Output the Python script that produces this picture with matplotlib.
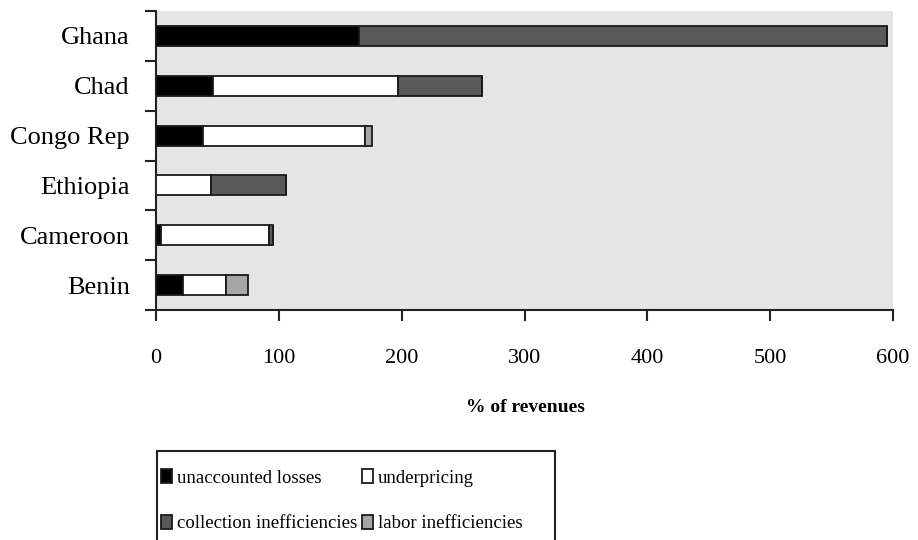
import numpy as np
import matplotlib
matplotlib.use("Agg")
import matplotlib.pyplot as plt
from matplotlib.patches import Rectangle

plt.rcParams['font.family'] = ['Liberation Serif', 'DejaVu Serif']

# data, top to bottom as drawn
countries = ["Ghana", "Chad", "Congo Rep", "Ethiopia", "Cameroon", "Benin"]
unaccounted = [165, 46, 38, 0, 4, 22]
underpricing = [0, 151, 132, 45, 88, 35]
collection = [430, 68, 0, 61, 3, 0]
labor = [0, 0, 6, 0, 0, 18]

series = [
    ("unaccounted losses", unaccounted, "#000000"),
    ("underpricing", underpricing, "#ffffff"),
    ("collection inefficiencies", collection, "#595959"),
    ("labor inefficiencies", labor, "#a6a6a6"),
]

W, H = 918, 540
fig = plt.figure(figsize=(W / 100, H / 100), dpi=100)
ax = fig.add_axes([156 / W, 1 - 310 / H, (893 - 156) / W, (310 - 11) / H])
ax.set_facecolor("#e5e5e5")

y = np.arange(len(countries))[::-1]
left = np.zeros(len(countries))
bars = []
for name, vals, col in series:
    vals = np.array(vals, dtype=float)
    b = ax.barh(y, vals, left=left, height=0.4, color=col, edgecolor="#1a1a1a",
                linewidth=1.3, label=name, zorder=3)
    bars.append(b)
    left += vals

ax.set_xlim(0, 598)
ax.set_ylim(-0.5, len(countries) - 0.5)
ax.set_xticks(np.arange(0, 700, 100))
ax.set_xticklabels([str(v) for v in range(0, 700, 100)])

# ticks at category boundaries, labels at centres
ax.set_yticks(np.arange(-0.5, len(countries), 1.0))
ax.set_yticklabels([])
ax.set_yticks(y, minor=True)
ax.set_yticklabels(countries, minor=True)
ax.tick_params(axis="y", which="minor", length=0, pad=19, labelsize=19)
ax.tick_params(axis="y", which="major", length=8, width=1.5, direction="out", color="#222222")
ax.tick_params(axis="x", length=8, width=1.5, direction="out", pad=20, labelsize=16, color="#222222")

for s in ["top", "right"]:
    ax.spines[s].set_visible(False)
for s in ["left", "bottom"]:
    ax.spines[s].set_linewidth(1.5)
    ax.spines[s].set_color("#222222")

fig.text(525 / W, 1 - 408 / H, "% of revenues", ha="center", va="center",
         fontsize=14, fontweight="bold")

# legend, filled row by row
order = [0, 2, 1, 3]
leg = fig.legend([bars[i] for i in order], [series[i][0] for i in order],
                 loc="upper left", bbox_to_anchor=(161 / W, 1 - 469 / H),
                 ncol=2, fontsize=13.5, frameon=False,
                 handlelength=0.6, handleheight=0.8, handletextpad=0.25,
                 columnspacing=0.25, labelspacing=1.5, borderpad=0,
                 borderaxespad=0)
fig.patches.append(Rectangle((157 / W, 1 - 548 / H), (555 - 157) / W, (548 - 451) / H,
                             transform=fig.transFigure, fill=False,
                             edgecolor="#222222", linewidth=1.5))

fig.savefig("out.png", dpi=100)
